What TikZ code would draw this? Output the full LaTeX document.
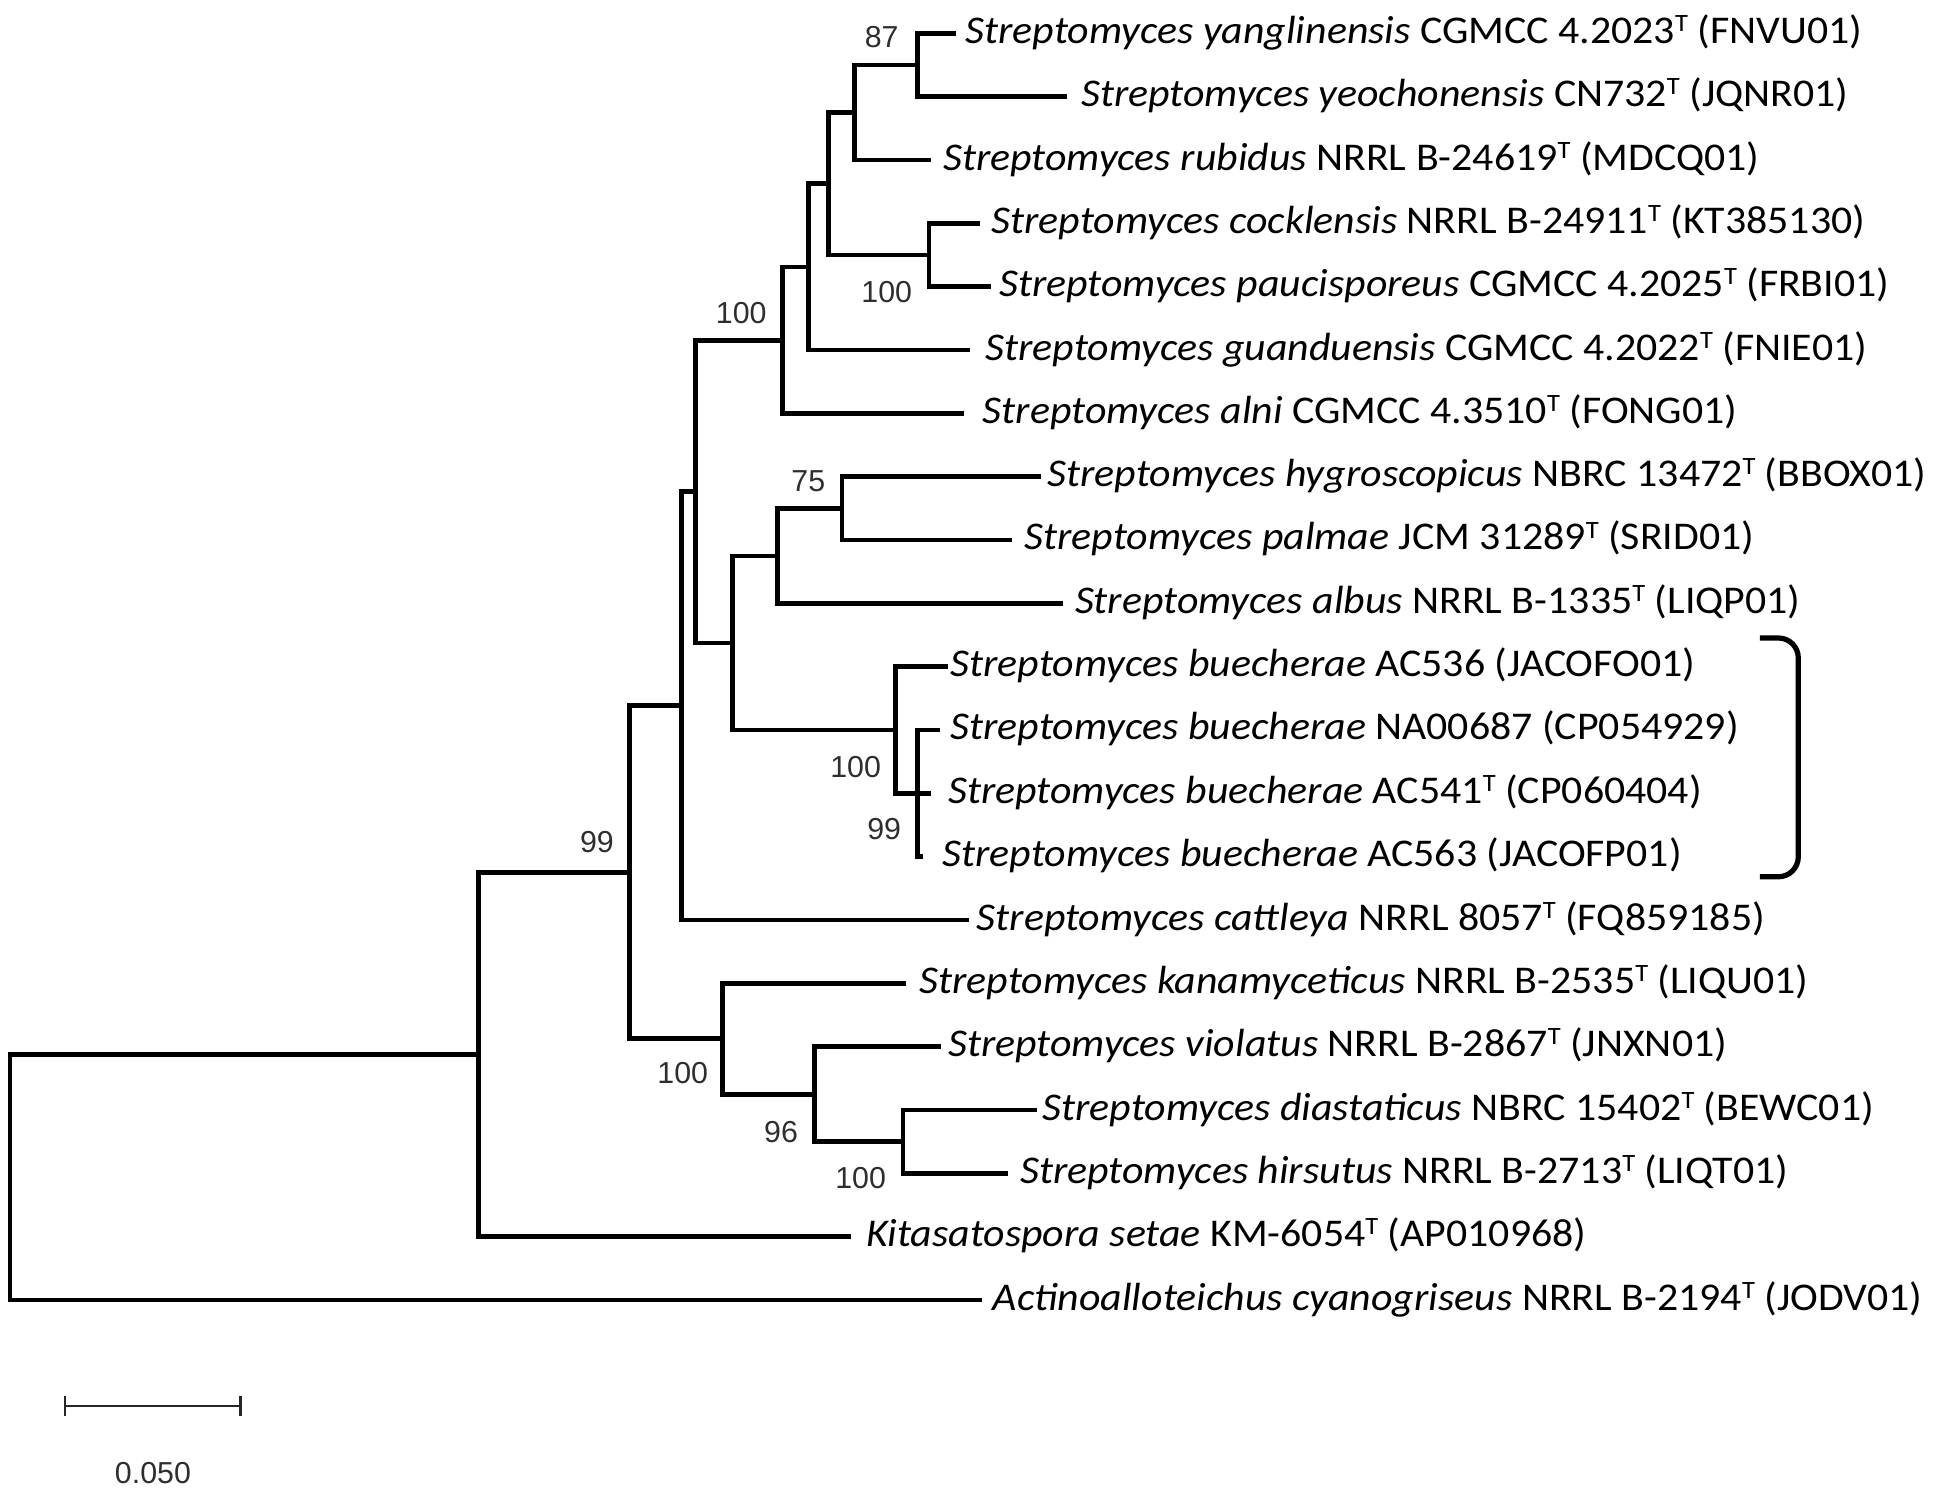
\documentclass[tikz,border=0pt]{standalone}
\usepackage{fontspec}
\setmainfont[FakeStretch=1.065]{Carlito}
\newfontfamily\bsfont[FakeStretch=1.0]{Liberation Sans}
\newcommand\supT{\raisebox{4.8pt}{\fontsize{10pt}{10pt}\selectfont T}}
\newcommand\spfont{\fontsize{15.8pt}{18pt}\selectfont}
\begin{document}
\begin{tikzpicture}[x=0.5pt,y=-0.5pt,
  br/.style={line width=1.9pt, line cap=rect},
  leaf/.style={anchor=base west, inner sep=0pt, font=\spfont},
  bs/.style={inner sep=0pt, font=\bsfont\fontsize{12.2pt}{14pt}\selectfont, text=black!82},
  sbar/.style={line width=1.1pt, black!85},
  brk/.style={line width=2.1pt, rounded corners=8pt}]
\useasboundingbox (0,0) rectangle (1568,1201);
% internal nodes
\coordinate (R0) at (8,946.7);
\coordinate (R1) at (385,847.9);
\coordinate (N99) at (506,701.4);
\coordinate (Nd) at (548,567.5);
\coordinate (Ntop) at (559,395.3);
\coordinate (Ntc) at (629,273.5);
\coordinate (Nb) at (650,214.6);
\coordinate (Na) at (666,147.8);
\coordinate (Nrub) at (687,90.5);
\coordinate (N87) at (738,52.25);
\coordinate (Ncock) at (747,205);
\coordinate (Nc) at (589,517);
\coordinate (Nhyg) at (625,447);
\coordinate (N75) at (677,408.8);
\coordinate (Nbue) at (720,587);
\coordinate (N99b) at (738,637.9);
\coordinate (Nlow) at (581,835.3);
\coordinate (N96) at (655,879.9);
\coordinate (Nh) at (726,918);
% leaf ends
\coordinate (l1) at (767,26.8);
\coordinate (l2) at (856,77.7);
\coordinate (l3) at (747,128.7);
\coordinate (l4) at (786,179.6);
\coordinate (l5) at (795,230.5);
\coordinate (l6) at (778,281.5);
\coordinate (l7) at (773,332.4);
\coordinate (l8) at (835,383.3);
\coordinate (l9) at (811.5,434.2);
\coordinate (l10) at (853,485.2);
\coordinate (l11) at (760,536.1);
\coordinate (l12) at (754,587.0);
\coordinate (l13) at (747,637.9);
\coordinate (l14) at (740,688.9);
\coordinate (l15) at (777,739.8);
\coordinate (l16) at (727,790.7);
\coordinate (l17) at (755,841.7);
\coordinate (l18) at (832,892.6);
\coordinate (l19) at (809,943.5);
\coordinate (l20) at (682,994.4);
\coordinate (l21) at (788,1045.4);
% branches
\draw[br] (R0) |- (R1);
\draw[br] (R0) |- (l21);
\draw[br] (R1) |- (N99);
\draw[br] (R1) |- (l20);
\draw[br] (N99) |- (Nd);
\draw[br] (N99) |- (Nlow);
\draw[br] (Nd) |- (Ntop);
\draw[br] (Nd) |- (l15);
\draw[br] (Ntop) |- (Ntc);
\draw[br] (Ntop) |- (Nc);
\draw[br] (Ntc) |- (Nb);
\draw[br] (Ntc) |- (l7);
\draw[br] (Nb) |- (Na);
\draw[br] (Nb) |- (l6);
\draw[br] (Na) |- (Nrub);
\draw[br] (Na) |- (Ncock);
\draw[br] (Nrub) |- (N87);
\draw[br] (Nrub) |- (l3);
\draw[br] (N87) |- (l1);
\draw[br] (N87) |- (l2);
\draw[br] (Ncock) |- (l4);
\draw[br] (Ncock) |- (l5);
\draw[br] (Nc) |- (Nhyg);
\draw[br] (Nc) |- (Nbue);
\draw[br] (Nhyg) |- (N75);
\draw[br] (Nhyg) |- (l10);
\draw[br] (N75) |- (l8);
\draw[br] (N75) |- (l9);
\draw[br] (Nbue) |- (l11);
\draw[br] (Nbue) |- (N99b);
\draw[br] (N99b) |- (l12);
\draw[br] (N99b) |- (l13);
\draw[br] (N99b) |- (l14);
\draw[br] (Nlow) |- (l16);
\draw[br] (Nlow) |- (N96);
\draw[br] (N96) |- (l17);
\draw[br] (N96) |- (Nh);
\draw[br] (Nh) |- (l18);
\draw[br] (Nh) |- (l19);
% leaf labels
\node[leaf] (t1) at (776,34.8) {\textit{Streptomyces yanglinensis} CGMCC 4.2023\supT{} (FNVU01)};
\node[leaf] (t2) at (869,85.7) {\textit{Streptomyces yeochonensis} CN732\supT{} (JQNR01)};
\node[leaf] (t3) at (758,136.7) {\textit{Streptomyces rubidus} NRRL B-24619\supT{} (MDCQ01)};
\node[leaf] (t4) at (797,187.6) {\textit{Streptomyces cocklensis} NRRL B-24911\supT{} (KT385130)};
\node[leaf] (t5) at (803,238.5) {\textit{Streptomyces paucisporeus} CGMCC 4.2025\supT{} (FRBI01)};
\node[leaf] (t6) at (792,289.5) {\textit{Streptomyces guanduensis} CGMCC 4.2022\supT{} (FNIE01)};
\node[leaf] (t7) at (790,340.4) {\textit{Streptomyces alni} CGMCC 4.3510\supT{} (FONG01)};
\node[leaf] (t8) at (842,391.3) {\textit{Streptomyces hygroscopicus} NBRC 13472\supT{} (BBOX01)};
\node[leaf] (t9) at (823.5,442.2) {\textit{Streptomyces palmae} JCM 31289\supT{} (SRID01)};
\node[leaf] (t10) at (864,493.2) {\textit{Streptomyces albus} NRRL B-1335\supT{} (LIQP01)};
\node[leaf] (t11) at (764,544.1) {\textit{Streptomyces buecherae} AC536 (JACOFO01)};
\node[leaf] (t12) at (764,595.0) {\textit{Streptomyces buecherae} NA00687 (CP054929)};
\node[leaf] (t13) at (762,645.9) {\textit{Streptomyces buecherae} AC541\supT{} (CP060404)};
\node[leaf] (t14) at (757.6,696.9) {\textit{Streptomyces buecherae} AC563 (JACOFP01)};
\node[leaf] (t15) at (785,747.8) {\textit{Streptomyces cattleya} NRRL 8057\supT{} (FQ859185)};
\node[leaf] (t16) at (739,798.7) {\textit{Streptomyces kanamyceticus} NRRL B-2535\supT{} (LIQU01)};
\node[leaf] (t17) at (762,849.7) {\textit{Streptomyces violatus} NRRL B-2867\supT{} (JNXN01)};
\node[leaf] (t18) at (838,900.6) {\textit{Streptomyces diastaticus} NBRC 15402\supT{} (BEWC01)};
\node[leaf] (t19) at (820,951.5) {\textit{Streptomyces hirsutus} NRRL B-2713\supT{} (LIQT01)};
\node[leaf] (t20) at (696,1002.4) {\textit{Kitasatospora setae} KM-6054\supT{} (AP010968)};
\node[leaf] (t21) at (798,1053.4) {\textit{Actinoalloteichus cyanogriseus} NRRL B-2194\supT{} (JODV01)};
% bootstrap values
\node[bs] (b87) at (709,30) {87};
\node[bs] (b100a) at (596,252) {100};
\node[bs] (b100b) at (713,234.5) {100};
\node[bs] (b75) at (650,387) {75};
\node[bs] (b100c) at (688,616.5) {100};
\node[bs] (b99a) at (711,667) {99};
\node[bs] (b99b) at (480,677) {99};
\node[bs] (b100d) at (549,863) {100};
\node[bs] (b96) at (628,910) {96};
\node[bs] (b100e) at (692,947) {100};
% bracket
\coordinate (k1) at (1415,513);
\coordinate (k2) at (1446,513);
\coordinate (k3) at (1446,705);
\coordinate (k4) at (1415,705);
\draw[brk] (k1) -- (k2) -- (k3) -- (k4);
% scale bar
\coordinate (s1) at (52.3,1130.6);
\coordinate (s2) at (193.5,1130.6);
\draw[sbar] (s1) -- (s2);
\draw[sbar] (s1) ++(0,-8) -- ++(0,16);
\draw[sbar] (s2) ++(0,-8) -- ++(0,16);
\node[bs] (sl) at (123,1184.6) {0.050};
\end{tikzpicture}
\end{document}
